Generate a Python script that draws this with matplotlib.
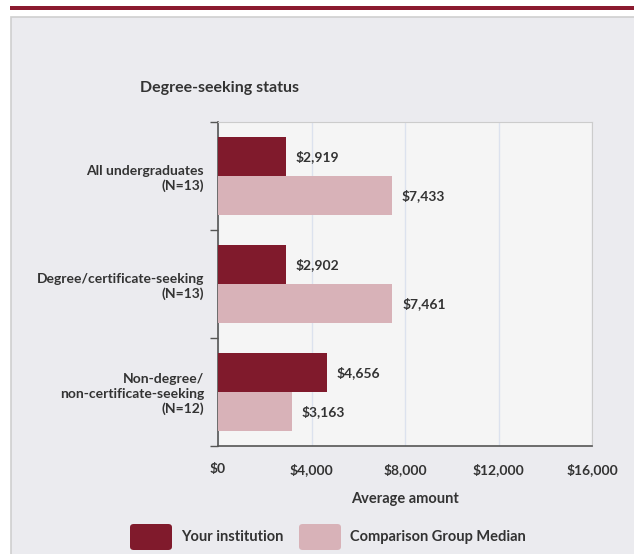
import matplotlib
matplotlib.use('Agg')
import matplotlib.pyplot as plt
from matplotlib.patches import Rectangle, FancyBboxPatch
import numpy as np

categories = ['All undergraduates\n(N=13)',
              'Degree/certificate-seeking\n(N=13)',
              'Non-degree/\nnon-certificate-seeking\n(N=12)']
your_inst = [2919, 2902, 4656]
comparison = [7433, 7461, 3163]
xticks = [0, 4000, 8000, 12000, 16000]

dark = '#801a2c'
light = '#d8b2b8'
txt = '#333333'

plt.rcParams['font.family'] = ['Lato', 'DejaVu Sans']
plt.rcParams['font.weight'] = 'bold'
plt.rcParams['font.size'] = 10

fig = plt.figure(figsize=(6.34, 5.54), dpi=100)
fig.patch.set_facecolor('white')

# top strip and grey panel
fig.patches.append(Rectangle((10/634, 1-10/554), 624/634, 4/554, transform=fig.transFigure,
                             facecolor='#8b1a2f', edgecolor='none', zorder=-10))
fig.patches.append(Rectangle((11/634, -0.01), 630/634, 1-17/554+0.01, transform=fig.transFigure,
                             facecolor='#ebebef', edgecolor='#cfcfcf', linewidth=1.2, zorder=-10))

ax = fig.add_axes([218/634, 1-446/554, 374/634, 324/554])
ax.set_facecolor('#f5f5f5')

y = np.arange(len(categories))
h = 0.365
b1 = ax.barh(y - h/2, your_inst, height=h, color=dark, zorder=3)
b2 = ax.barh(y + h/2, comparison, height=h, color=light, zorder=3)

for bars, vals in ((b1, your_inst), (b2, comparison)):
    for r, v in zip(bars, vals):
        ax.annotate('${:,}'.format(v), (v, r.get_y() + r.get_height()/2),
                    xytext=(7, 0), textcoords='offset points', va='center', ha='left',
                    color=txt, fontweight='bold')

ax.set_xlim(0, 16000)
ax.set_ylim(2.5, -0.5)
ax.set_xticks(xticks)
ax.set_xticklabels(['${:,}'.format(t) for t in xticks], color=txt)
ax.tick_params(axis='x', length=0, pad=12)
ax.set_yticks([-0.5, 0.5, 1.5, 2.5])
ax.set_yticklabels([])
ax.set_yticks(y, minor=True)
ax.set_yticklabels(categories, minor=True, ha='right', color=txt, linespacing=1.25)
ax.tick_params(axis='y', which='major', length=6, width=1, color='#555555')
ax.tick_params(axis='y', which='minor', length=0, pad=10)
ax.grid(axis='x', color='#dce2ee', linewidth=1, zorder=0)

for s in ['top', 'right']:
    ax.spines[s].set_color('#cccccc')
for s in ['left', 'bottom']:
    ax.spines[s].set_color('#555555')
    ax.spines[s].set_linewidth(1.2)

ax.set_xlabel('Average amount', color=txt, fontsize=10.5, fontweight='bold', labelpad=12)
fig.text(140/634, 1-88/554, 'Degree-seeking status', color=txt, fontsize=11.5,
         va='center', ha='left')

# legend
leg_items = [(dark, 'Your institution', 130), (light, 'Comparison Group Median', 299)]
for col, lab, x0 in leg_items:
    fig.patches.append(FancyBboxPatch((x0/634, 1-550/554), 42/634, 26/554,
                                      boxstyle='round,pad=0,rounding_size=0.006',
                                      transform=fig.transFigure, facecolor=col,
                                      edgecolor='none'))
    fig.text((x0+51)/634, 1-537/554, lab, color=txt, fontsize=10.5, va='center', ha='left')

fig.savefig('out.png', dpi=100)
